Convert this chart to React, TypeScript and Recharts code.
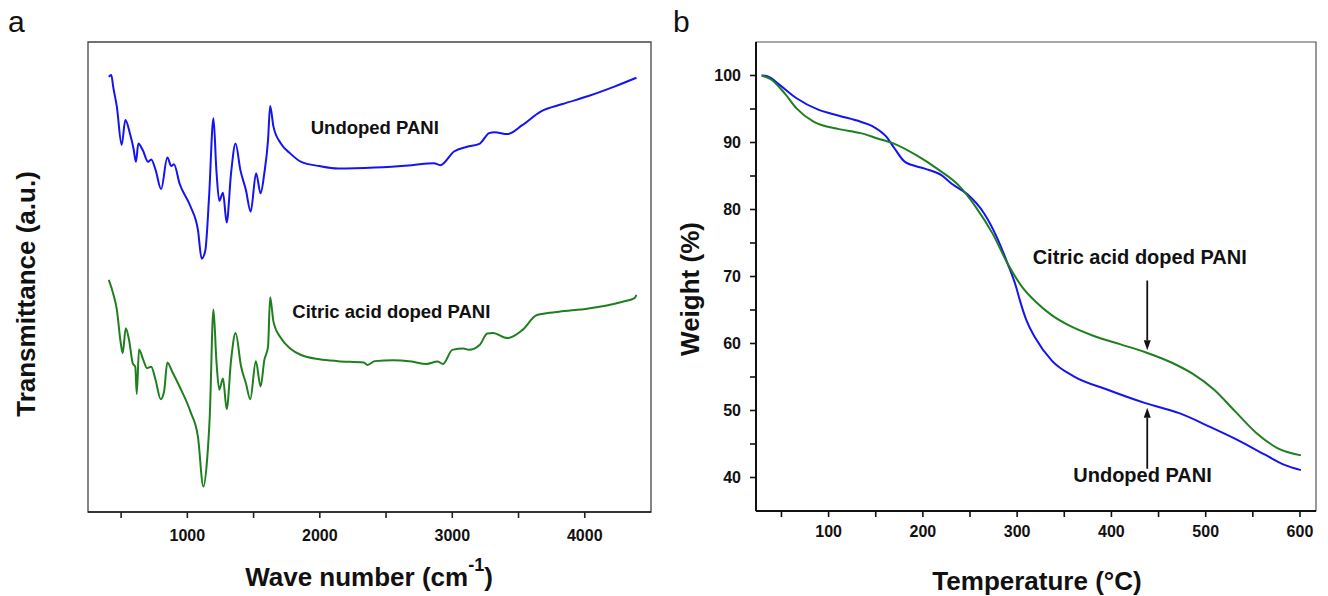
import React from 'react';
import { LineChart, Line, XAxis, YAxis, ReferenceArea, ReferenceLine, ReferenceDot } from 'recharts';

// FTIR (a): wavenumber (cm-1) and transmittance in arbitrary units
const ftirUndopedWn = [407, 426, 440, 468, 504, 532, 566, 593, 612, 630, 663, 704, 727, 760, 802, 849, 879, 899, 941, 1024, 1080, 1108, 1136, 1164, 1197, 1219, 1241, 1269, 1297, 1330, 1364, 1400, 1442, 1478, 1519, 1553, 1581, 1609, 1625, 1650, 1706, 1776, 1859, 1998, 2137, 2415, 2694, 2861, 2910, 3013, 3111, 3208, 3278, 3319, 3417, 3528, 3667, 3833, 4028, 4223, 4390];
const ftirUndopedT = [92.6, 93.0, 90.5, 86.2, 78.1, 83.4, 80.6, 77.4, 74.5, 78.4, 77.0, 74.5, 75.0, 72.8, 68.7, 75.4, 73.6, 74.0, 69.9, 65.0, 60.0, 53.9, 55.7, 67.1, 83.8, 72.8, 66.2, 67.9, 61.6, 72.1, 78.4, 72.8, 68.5, 63.9, 72.1, 67.8, 72.1, 79.1, 86.4, 82.0, 78.4, 76.3, 74.5, 73.6, 73.1, 73.3, 73.8, 74.2, 73.8, 76.7, 77.7, 78.4, 80.6, 80.8, 80.4, 82.3, 85.2, 86.8, 88.5, 90.5, 92.4];

const ftirDopedWn = [407, 440, 468, 496, 512, 535, 560, 588, 607, 618, 635, 668, 696, 727, 760, 799, 824, 849, 885, 941, 1024, 1080, 1121, 1149, 1169, 1197, 1219, 1241, 1269, 1297, 1330, 1364, 1406, 1442, 1475, 1517, 1553, 1581, 1609, 1625, 1650, 1706, 1776, 1859, 1998, 2137, 2332, 2360, 2415, 2555, 2694, 2805, 2888, 2930, 3000, 3083, 3125, 3208, 3264, 3306, 3417, 3528, 3639, 3807, 4028, 4279, 4376, 4390];
const ftirDopedT = [49.4, 46.5, 43.0, 36.2, 33.8, 39.1, 36.6, 31.6, 30.9, 25.1, 34.6, 32.3, 30.6, 30.9, 28.1, 24.0, 25.6, 31.8, 29.9, 26.7, 21.3, 16.0, 5.4, 11.1, 20.3, 43.1, 32.3, 26.0, 28.4, 21.9, 32.3, 38.1, 30.9, 27.4, 24.0, 32.1, 26.7, 32.3, 35.2, 45.7, 40.5, 37.0, 34.8, 33.4, 32.5, 32.1, 31.8, 31.3, 32.1, 32.3, 32.0, 31.5, 32.0, 31.5, 34.5, 34.8, 34.5, 35.6, 38.0, 38.1, 37.0, 38.7, 41.9, 42.6, 43.3, 44.7, 45.5, 46.2];

const ftirTicks = [500, 1000, 1500, 2000, 2500, 3000, 3500, 4000];

// TGA (b): temperature (°C) and weight (%)
const tgaUndopedTemp = [29, 35, 48, 66, 89, 111, 134, 147, 161, 170, 181, 202, 220, 231, 247, 265, 278, 290, 299, 303, 310, 319, 337, 360, 396, 436, 472, 504, 531, 563, 585, 601];
const tgaUndopedW = [100.0, 99.9, 98.6, 96.6, 94.9, 94.0, 93.1, 92.4, 90.9, 89.1, 87.1, 86.1, 85.1, 83.8, 82.3, 79.4, 76.0, 71.9, 68.4, 66.4, 63.4, 60.9, 57.4, 55.1, 53.1, 51.1, 49.6, 47.6, 45.8, 43.4, 41.8, 41.1];

const tgaDopedTemp = [29, 39, 53, 66, 84, 111, 134, 152, 168, 193, 215, 238, 256, 274, 290, 305, 320, 337, 355, 380, 409, 436, 463, 486, 509, 531, 554, 576, 601];
const tgaDopedW = [100.0, 99.4, 97.4, 95.1, 93.1, 92.0, 91.4, 90.6, 89.9, 88.1, 86.1, 83.6, 80.4, 76.4, 71.9, 68.5, 66.2, 64.2, 62.7, 61.2, 59.9, 58.7, 57.2, 55.5, 53.1, 49.9, 46.6, 44.4, 43.3];

const tgaXTicks = [50, 100, 150, 200, 250, 300, 350, 400, 450, 500, 550, 600];
const tgaYTicks = [40, 45, 50, 55, 60, 65, 70, 75, 80, 85, 90, 95, 100];

const BLUE = '#1414f2';
const GREEN = '#1f7f1f';
const FONT = "'Liberation Sans', Arial, Helvetica, sans-serif";

const undopedFtir = ftirUndopedWn.map((wn, i) => ({ wn, t: ftirUndopedT[i] }));
const dopedFtir = ftirDopedWn.map((wn, i) => ({ wn, t: ftirDopedT[i] }));
const undopedTga = tgaUndopedTemp.map((temp, i) => ({ temp, w: tgaUndopedW[i] }));
const dopedTga = tgaDopedTemp.map((temp, i) => ({ temp, w: tgaDopedW[i] }));

const tickStyle = { fontSize: 16, fontWeight: 700, fill: '#111', fontFamily: FONT };

// arrow drawn from the first segment point to the second one
const arrowShape = (props: any) => {
  const { x1, y1, x2, y2 } = props;
  const dir = y2 > y1 ? 1 : -1;
  const head = 10;
  return (
    <g>
      <line x1={x1} y1={y1} x2={x2} y2={y2 - dir * head} stroke="#111" strokeWidth={1.8} />
      <polygon points={`${x2},${y2} ${x2 - 3.5},${y2 - dir * head} ${x2 + 3.5},${y2 - dir * head}`} fill="#111" />
    </g>
  );
};

const annot = (value: string, size: number) => ({
  value,
  position: 'center' as const,
  fill: '#111',
  fontSize: size,
  fontWeight: 700,
  fontFamily: FONT,
});

const titleStyle: React.CSSProperties = {
  position: 'absolute',
  fontSize: 26,
  fontWeight: 700,
  lineHeight: 1,
  whiteSpace: 'nowrap',
  color: '#111',
};

export default function App() {
  return (
    <div style={{ position: 'absolute', left: 0, top: 0, width: 1328, height: 596, background: '#fff', fontFamily: FONT }}>
      {/* panel a : FTIR */}
      <div style={{ position: 'absolute', left: 0, top: 0 }}>
        <LineChart width={664} height={596} margin={{ top: 42, right: 13, bottom: 54, left: 88 }}>
          <ReferenceArea x1={250} x2={4500} y1={0} y2={100} fill="none" stroke="#444" strokeWidth={1.3} />
          <XAxis
            type="number"
            dataKey="wn"
            domain={[250, 4500]}
            ticks={ftirTicks}
            tickFormatter={(v: number) => (v % 1000 === 0 ? String(v) : '')}
            tickSize={6}
            tickMargin={12}
            height={30}
            allowDataOverflow
            axisLine={{ stroke: '#222', strokeWidth: 1.6 }}
            tickLine={{ stroke: '#222', strokeWidth: 1.6 }}
            tick={tickStyle}
          />
          <YAxis type="number" domain={[0, 100]} hide />
          <Line data={undopedFtir} dataKey="t" type="monotone" stroke={BLUE} strokeWidth={2} dot={false} isAnimationActive={false} />
          <Line data={dopedFtir} dataKey="t" type="monotone" stroke={GREEN} strokeWidth={2} dot={false} isAnimationActive={false} />
          <ReferenceDot x={2415} y={81.9} r={0} fill="none" stroke="none" label={annot('Undoped PANI', 18.5)} />
          <ReferenceDot x={2540} y={42.6} r={0} fill="none" stroke="none" label={annot('Citric acid doped PANI', 18.5)} />
        </LineChart>
      </div>

      {/* panel b : TGA */}
      <div style={{ position: 'absolute', left: 664, top: 0 }}>
        <LineChart width={664} height={596} margin={{ top: 42, right: 12, bottom: 55, left: 32 }}>
          <ReferenceArea x1={23} x2={617} y1={35} y2={105} fill="none" stroke="#555" strokeWidth={1.2} />
          <XAxis
            type="number"
            dataKey="temp"
            domain={[23, 617]}
            ticks={tgaXTicks}
            tickFormatter={(v: number) => (v % 100 === 0 ? String(v) : '')}
            tickSize={6}
            tickMargin={9}
            height={30}
            allowDataOverflow
            axisLine={{ stroke: '#111', strokeWidth: 2 }}
            tickLine={{ stroke: '#111', strokeWidth: 1.6 }}
            tick={tickStyle}
          />
          <YAxis
            type="number"
            domain={[35, 105]}
            ticks={tgaYTicks}
            tickFormatter={(v: number) => (v % 10 === 0 ? String(v) : '')}
            width={60}
            tickSize={6}
            tickMargin={9}
            allowDataOverflow
            axisLine={{ stroke: '#111', strokeWidth: 2 }}
            tickLine={{ stroke: '#111', strokeWidth: 1.6 }}
            tick={tickStyle}
          />
          <Line data={undopedTga} dataKey="w" type="monotone" stroke={BLUE} strokeWidth={2} dot={false} isAnimationActive={false} />
          <Line data={dopedTga} dataKey="w" type="monotone" stroke={GREEN} strokeWidth={2} dot={false} isAnimationActive={false} />
          <ReferenceLine segment={[{ x: 438, y: 69.4 }, { x: 438, y: 59.0 }]} shape={arrowShape} ifOverflow="visible" />
          <ReferenceLine segment={[{ x: 438, y: 41.3 }, { x: 438, y: 50.4 }]} shape={arrowShape} ifOverflow="visible" />
          <ReferenceDot x={430} y={72.9} r={0} fill="none" stroke="none" label={annot('Citric acid doped PANI', 20)} />
          <ReferenceDot x={433} y={40.4} r={0} fill="none" stroke="none" label={annot('Undoped PANI', 20)} />
        </LineChart>
      </div>

      {/* panel letters and axis titles */}
      <div style={{ position: 'absolute', left: 8, top: 7, fontSize: 30, lineHeight: 1, color: '#111' }}>a</div>
      <div style={{ position: 'absolute', left: 673, top: 7, fontSize: 30, lineHeight: 1, color: '#111' }}>b</div>

      <div style={{ ...titleStyle, left: 369, top: 564, transform: 'translateX(-50%)' }}>
        Wave number (cm<sup style={{ fontSize: 18, verticalAlign: 'top', position: 'relative', top: -8 }}>-1</sup>)
      </div>
      <div style={{ ...titleStyle, left: 1037, top: 568, transform: 'translateX(-50%)' }}>Temperature (°C)</div>
      <div style={{ ...titleStyle, left: 26, top: 294, transform: 'translate(-50%, -50%) rotate(-90deg)' }}>Transmittance (a.u.)</div>
      <div style={{ ...titleStyle, left: 690, top: 289, transform: 'translate(-50%, -50%) rotate(-90deg)' }}>Weight (%)</div>
    </div>
  );
}
